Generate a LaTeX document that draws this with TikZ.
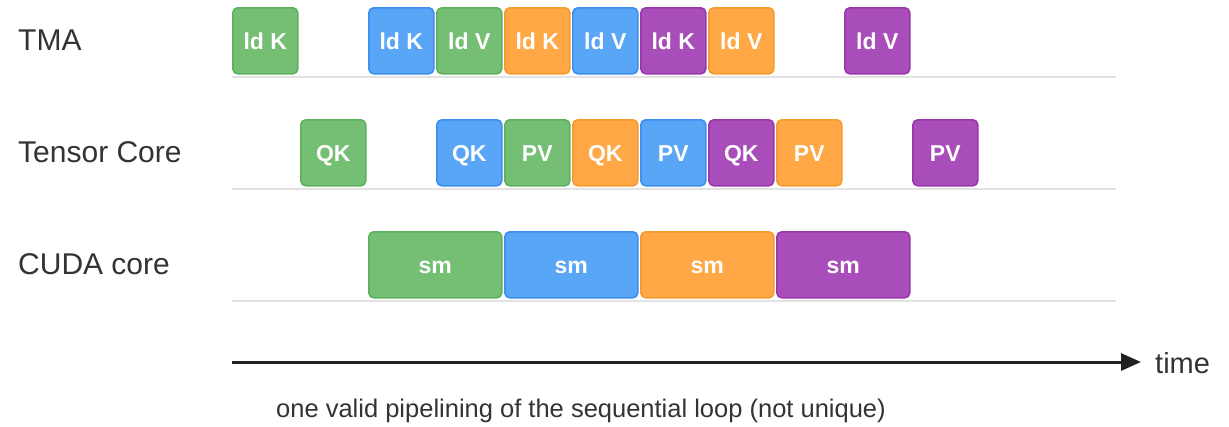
\documentclass[tikz,border=0pt]{standalone}
\usepackage{fontspec}
\setmainfont{Liberation Sans}
\usetikzlibrary{arrows.meta}
\definecolor{gfill}{HTML}{74BF74}\definecolor{gdraw}{HTML}{5EB05E}
\definecolor{bfill}{HTML}{58A6F5}\definecolor{bdraw}{HTML}{3C8EF0}
\definecolor{ofill}{HTML}{FFA845}\definecolor{odraw}{HTML}{F59A2C}
\definecolor{pfill}{HTML}{A84DB9}\definecolor{pdraw}{HTML}{9836AB}
\definecolor{txt}{HTML}{333333}
\definecolor{sep}{HTML}{E2E2E2}
\tikzset{
  box/.style={rounded corners=5pt, line width=1.6pt, anchor=north west,
    minimum width=65pt, minimum height=66pt, inner sep=0pt,
    text height=16.5pt, text depth=0pt,
    text=white, font=\bfseries\fontsize{23}{27}\selectfont},
  widebox/.style={box, minimum width=133pt},
  gbox/.style={fill=gfill, draw=gdraw},
  bbox/.style={fill=bfill, draw=bdraw},
  obox/.style={fill=ofill, draw=odraw},
  pbox/.style={fill=pfill, draw=pdraw},
  rowlabel/.style={anchor=west, inner sep=0pt, text=txt, font=\fontsize{30}{35}\selectfont},
  sepline/.style={draw=sep, line width=1.5pt},
  timearrow/.style={draw=black!87, line width=3pt, -{Triangle[length=20pt,width=17pt]}},
  caption/.style={anchor=base west, inner sep=0pt, text=txt, font=\fontsize{25.5}{30}\selectfont}
}
\begin{document}
\begin{tikzpicture}[x=1pt,y=-1pt]
\useasboundingbox (0,0) rectangle (1229,426);
% row labels
\node[rowlabel] (lTMA) at (18,40) {TMA};
\node[rowlabel] (lTC) at (18,152) {Tensor Core};
\node[rowlabel] (lCU) at (18,264) {CUDA core};
% TMA row
\node[box,gbox] (t0) at (232,7) {ld K};
\node[box,bbox] (t2) at (368,7) {ld K};
\node[box,gbox] (t3) at (436,7) {ld V};
\node[box,obox] (t4) at (504,7) {ld K};
\node[box,bbox] (t5) at (572,7) {ld V};
\node[box,pbox] (t6) at (640,7) {ld K};
\node[box,obox] (t7) at (708,7) {ld V};
\node[box,pbox] (t9) at (844,7) {ld V};
% Tensor core row
\node[box,gbox] (c1) at (300,119) {QK};
\node[box,bbox] (c3) at (436,119) {QK};
\node[box,gbox] (c4) at (504,119) {PV};
\node[box,obox] (c5) at (572,119) {QK};
\node[box,bbox] (c6) at (640,119) {PV};
\node[box,pbox] (c7) at (708,119) {QK};
\node[box,obox] (c8) at (776,119) {PV};
\node[box,pbox] (c10) at (912,119) {PV};
% CUDA core row
\node[widebox,gbox] (s1) at (368,231) {sm};
\node[widebox,bbox] (s2) at (504,231) {sm};
\node[widebox,obox] (s3) at (640,231) {sm};
\node[widebox,pbox] (s4) at (776,231) {sm};
% separators
\coordinate (sA0) at (232,77);  \coordinate (sA1) at (1116,77);
\coordinate (sB0) at (232,189); \coordinate (sB1) at (1116,189);
\coordinate (sC0) at (232,301); \coordinate (sC1) at (1116,301);
\draw[sepline] (sA0) -- (sA1);
\draw[sepline] (sB0) -- (sB1);
\draw[sepline] (sC0) -- (sC1);
% time axis
\coordinate (a0) at (232,362);
\coordinate (a1) at (1141,362);
\draw[timearrow] (a0) -- (a1);
\node[caption, font=\fontsize{29}{34}\selectfont] (time) at (1155,373) {time};
\node[caption] (cap) at (276,417) {one valid pipelining of the sequential loop (not unique)};
\end{tikzpicture}
\end{document}
